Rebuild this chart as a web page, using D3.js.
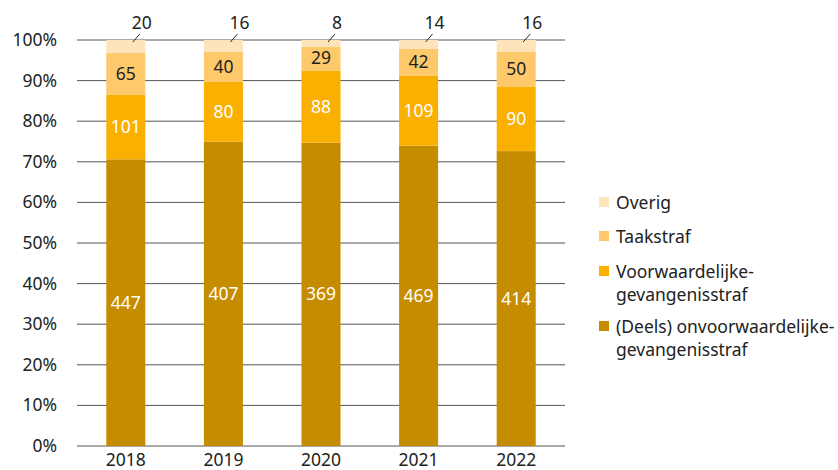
<!DOCTYPE html>
<html><head><meta charset="utf-8">
<script src="https://cdn.jsdelivr.net/npm/d3@7"></script>
<style>body{margin:0;background:#fff}svg text{font-family:"Noto Sans",sans-serif}</style>
</head><body><svg id="c" width="838" height="470"></svg>
<script>
const years = ["2018","2019","2020","2021","2022"];
const onvoorwaardelijk = [447,407,369,469,414];
const voorwaardelijk = [101,80,88,109,90];
const taakstraf = [65,40,29,42,50];
const overig = [20,16,8,14,16];
const seriesNames = ["(Deels) onvoorwaardelijke-gevangenisstraf","Voorwaardelijke-gevangenisstraf","Taakstraf","Overig"];
const yTicks = [0,10,20,30,40,50,60,70,80,90,100];

const colors = ["#c68c00","#f9b000","#fdc96b","#fee4ba"];
const labelColors = ["#fff","#fff","#222","#222"];
const seriesVals = [onvoorwaardelijk, voorwaardelijk, taakstraf, overig];
const FS = 17.5;

const svg = d3.select("#c");
const x = d3.scaleBand().domain(years).range([77,565]).paddingInner(0.6).paddingOuter(0.3);
const y = d3.scaleLinear().domain([0,100]).range([446,40]);

// grid
svg.append("g").selectAll("line").data(yTicks).join("line")
  .attr("x1",77).attr("x2",565).attr("y1",d=>y(d)).attr("y2",d=>y(d))
  .attr("stroke","#555").attr("stroke-width",1);
svg.append("g").selectAll("text").data(yTicks).join("text")
  .attr("x",57).attr("y",d=>y(d)+6).attr("text-anchor","end")
  .attr("font-size",FS).attr("fill","#222").text(d=>d+"%");

// stack
const rows = years.map((yr,i)=>{
  const total = seriesVals.reduce((s,a)=>s+a[i],0);
  let acc=0;
  return seriesVals.map((a,k)=>{const v=a[i]/total*100; const r={yr,k,v0:acc,v1:acc+v,val:a[i]}; acc+=v; return r;});
});
const segs = rows.flat();
svg.append("g").selectAll("rect").data(segs).join("rect")
  .attr("x",d=>x(d.yr)).attr("width",x.bandwidth())
  .attr("y",d=>y(d.v1)).attr("height",d=>y(d.v0)-y(d.v1))
  .attr("fill",d=>colors[d.k]);

// labels inside (not overig)
svg.append("g").selectAll("text").data(segs.filter(d=>d.k<3)).join("text")
  .attr("x",d=>x(d.yr)+x.bandwidth()/2).attr("y",d=>y((d.v0+d.v1)/2)+6)
  .attr("text-anchor","middle").attr("font-size",FS).attr("fill",d=>labelColors[d.k]).text(d=>d.val);

// overig labels above with leader
const ov = segs.filter(d=>d.k===3);
svg.append("g").selectAll("line").data(ov).join("line")
  .attr("x1",d=>x(d.yr)+x.bandwidth()/2+7).attr("y1",y(100)+2)
  .attr("x2",d=>x(d.yr)+x.bandwidth()/2+14).attr("y2",y(100)-6)
  .attr("stroke","#222").attr("stroke-width",1);
svg.append("g").selectAll("text").data(ov).join("text")
  .attr("x",d=>x(d.yr)+x.bandwidth()/2+16).attr("y",29)
  .attr("text-anchor","middle").attr("font-size",FS).attr("fill","#222").text(d=>d.val);

// x labels
svg.append("g").selectAll("text").data(years).join("text")
  .attr("x",d=>x(d)+x.bandwidth()/2).attr("y",466)
  .attr("text-anchor","middle").attr("font-size",FS).attr("fill","#222").text(d=>d);

// legend
const legend = [
  {k:3, lines:["Overig"], y:203},
  {k:2, lines:["Taakstraf"], y:237},
  {k:1, lines:["Voorwaardelijke-","gevangenisstraf"], y:272},
  {k:0, lines:["(Deels) onvoorwaardelijke-","gevangenisstraf"], y:327}
];
const lg = svg.append("g").selectAll("g").data(legend).join("g");
lg.append("rect").attr("x",599).attr("y",d=>d.y-6).attr("width",10).attr("height",10).attr("fill",d=>colors[d.k]);
lg.append("text").attr("font-size",FS).attr("fill","#222")
  .selectAll("tspan").data(d=>d.lines.map((l,i)=>({l,i,y:d.y}))).join("tspan")
  .attr("x",616).attr("y",d=>d.y+6+d.i*23).text(d=>d.l);
</script></body></html>
